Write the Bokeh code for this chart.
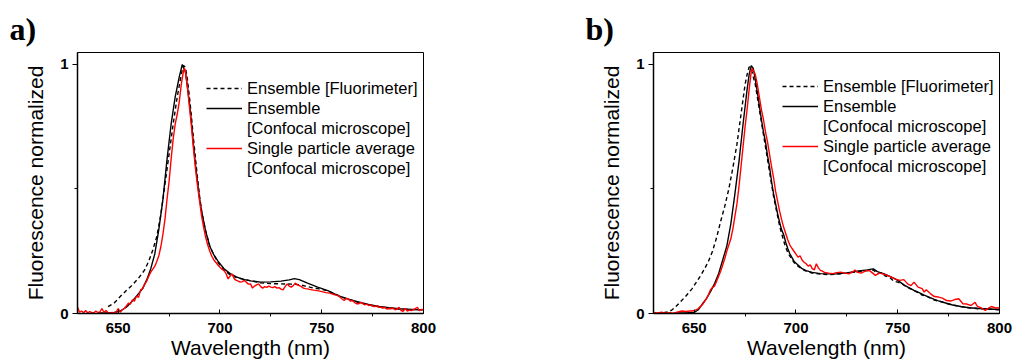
from bokeh.plotting import figure
from bokeh.layouts import row
from bokeh.models import Range1d, FixedTicker, Legend, LegendItem, Title
from bokeh.embed import file_html
from bokeh.resources import INLINE

# ---------------- data: panel a ----------------
a_fluor_x = [645, 648, 651, 654, 657, 660, 663, 665, 667, 669, 671, 673, 675, 677, 679, 681, 682, 683,
             684, 685, 686, 687, 688, 689, 690, 691, 693, 695, 697, 699, 702, 705, 708, 712, 716, 720,
             725, 730, 735, 739, 742, 745, 748, 751, 754, 757, 760, 764, 768, 772, 776, 780, 785, 790, 795, 800]
a_fluor_y = [0.028, 0.042, 0.068, 0.092, 0.115, 0.142, 0.175, 0.21, 0.255, 0.31, 0.40, 0.52, 0.64, 0.76,
             0.87, 0.96, 0.995, 0.99, 0.94, 0.87, 0.79, 0.70, 0.62, 0.54, 0.47, 0.41, 0.33, 0.27, 0.235,
             0.205, 0.175, 0.155, 0.145, 0.137, 0.13, 0.123, 0.12, 0.119, 0.118, 0.116, 0.11, 0.104, 0.1,
             0.095, 0.087, 0.077, 0.066, 0.055, 0.045, 0.036, 0.03, 0.025, 0.02, 0.017, 0.016, 0.015]

a_conf_x = [640, 644, 648, 651, 654, 657, 660, 662, 664, 666, 668, 670, 672, 674, 676, 678, 680, 681.5,
            683, 684, 685, 686, 687, 688, 689, 690, 691, 693, 695, 697, 699, 702, 705, 708, 711, 715, 720,
            725, 730, 734, 736.5, 739, 743, 748, 753, 758, 763, 768, 773, 778, 783, 788, 794, 800]
a_conf_y = [0.002, 0.002, 0.004, 0.01, 0.025, 0.05, 0.08, 0.1, 0.135, 0.18, 0.24, 0.34, 0.46, 0.62, 0.76,
            0.87, 0.95, 1.0, 0.97, 0.91, 0.845, 0.765, 0.675, 0.595, 0.525, 0.46, 0.41, 0.33, 0.27, 0.235,
            0.21, 0.18, 0.16, 0.147, 0.138, 0.131, 0.126, 0.127, 0.13, 0.135, 0.14, 0.136, 0.122, 0.106,
            0.092, 0.072, 0.058, 0.046, 0.036, 0.028, 0.023, 0.019, 0.016, 0.015]

a_single_x = [630, 631, 632, 633, 634, 635, 636, 637, 638, 639, 640, 641, 642, 643, 644, 645, 646, 647, 648,
              649, 650, 651, 652, 653, 654, 655, 656, 657, 658, 659, 660, 661, 662, 663, 664, 665, 666, 667,
              668, 669, 670, 671, 672, 673, 674, 675, 676, 677, 678, 679, 680, 681, 682, 682.5, 683, 684, 685,
              686, 687, 688, 689, 690, 691, 692, 693, 694, 695, 696, 697, 698, 699, 700, 701, 702, 703, 704,
              705, 706, 707, 708, 709, 710, 711, 712, 713, 714, 715, 716, 717, 718, 719, 720, 721, 722, 723,
              724, 725, 726, 727, 728, 729, 730, 731, 732, 733, 734, 735, 736, 737, 738, 739, 740, 741, 742,
              743, 744, 746, 748, 750, 752, 754, 756, 758, 759, 760, 761, 762, 763, 764, 765, 766, 767, 768,
              769, 770, 771, 772, 773, 774, 775, 776, 777, 778, 779, 780, 781, 782, 783, 784, 785, 786, 787,
              788, 789, 790, 791, 792, 793, 794, 795, 796, 797, 798, 799, 800]
a_single_y = [0.025, 0.005, 0.01, 0.003, 0.012, 0.002, 0.008, 0.004, 0.002, 0.01, 0.004, 0.006, 0.02,
              0.004, 0.012, 0.003, 0.002, 0.004, 0.002, 0.006, 0.02, 0.005, 0.015, 0.02, 0.03, 0.042, 0.038,
              0.055, 0.05, 0.07, 0.065, 0.095, 0.1, 0.118, 0.13, 0.15, 0.166, 0.178, 0.19, 0.21, 0.233,
              0.27, 0.32, 0.38, 0.46, 0.53, 0.62, 0.70, 0.76, 0.80, 0.85, 0.92, 0.97, 0.985, 0.975, 0.91,
              0.83, 0.75, 0.66, 0.58, 0.51, 0.45, 0.39, 0.345, 0.305, 0.275, 0.25, 0.23, 0.215, 0.205,
              0.195, 0.186, 0.178, 0.172, 0.16, 0.139, 0.15, 0.159, 0.14, 0.133, 0.13, 0.126, 0.128, 0.133,
              0.125, 0.118, 0.119, 0.102, 0.11, 0.115, 0.119, 0.108, 0.102, 0.108, 0.105, 0.11, 0.106,
              0.104, 0.108, 0.102, 0.104, 0.098, 0.095, 0.108, 0.119, 0.11, 0.106, 0.112, 0.122, 0.115,
              0.112, 0.108, 0.102, 0.1, 0.099, 0.097, 0.094, 0.092, 0.088, 0.084, 0.082, 0.076, 0.072,
              0.065, 0.058, 0.052, 0.06, 0.059, 0.05, 0.052, 0.045, 0.039, 0.039, 0.044, 0.042, 0.035,
              0.038, 0.032, 0.035, 0.03, 0.028, 0.032, 0.025, 0.025, 0.022, 0.025, 0.018, 0.02, 0.019,
              0.022, 0.015, 0.018, 0.025, 0.012, 0.009, 0.02, 0.01, 0.014, 0.012, 0.016, 0.02, 0.025,
              0.012, 0.016, 0.016]

# ---------------- data: panel b ----------------
b_fluor_x = [635, 637, 639, 641, 643, 645, 647, 649, 651, 653, 655, 657, 659, 661, 663, 665, 667, 669,
             671, 673, 675, 676, 677, 678, 679, 680, 681, 682, 683, 684, 685, 686, 687, 688, 689, 690, 691,
             692, 693, 694, 695, 696, 697, 699, 701, 703, 705, 708, 712, 716, 720, 725, 730, 735, 738, 740,
             742, 744, 746, 748, 750, 752, 754, 756, 758, 760, 762, 764, 766, 768, 770, 772, 774, 777, 781,
             785, 790, 795, 800]
b_fluor_y = [0.003, 0.006, 0.014, 0.028, 0.045, 0.062, 0.08, 0.1, 0.125, 0.15, 0.178, 0.21, 0.25, 0.305,
             0.37, 0.43, 0.5, 0.585, 0.68, 0.8, 0.92, 0.96, 0.99, 0.985, 0.95, 0.92, 0.87, 0.82, 0.77, 0.72,
             0.67, 0.62, 0.57, 0.52, 0.47, 0.43, 0.39, 0.35, 0.32, 0.29, 0.265, 0.245, 0.23, 0.205, 0.19,
             0.178, 0.17, 0.162, 0.158, 0.156, 0.158, 0.162, 0.168, 0.172, 0.175, 0.16, 0.163, 0.15, 0.145,
             0.13, 0.126, 0.12, 0.108, 0.1, 0.092, 0.084, 0.074, 0.07, 0.062, 0.054, 0.05, 0.046, 0.04,
             0.034, 0.028, 0.023, 0.019, 0.017, 0.015]

b_conf_x = [640, 645, 650, 652, 654, 656, 658, 660, 662, 664, 666, 668, 670, 672, 674, 675, 676, 677, 678,
            679, 680, 681, 682, 683, 684, 685, 686, 687, 688, 689, 690, 691, 692, 693, 694, 695, 696, 697,
            699, 701, 703, 705, 708, 712, 716, 720, 725, 730, 735, 738, 740, 743, 745, 748, 750, 753, 755,
            758, 760, 763, 765, 768, 770, 774, 777, 781, 785, 790, 795, 800]
b_conf_y = [0.002, 0.002, 0.004, 0.015, 0.038, 0.06, 0.088, 0.12, 0.16, 0.215, 0.27, 0.36, 0.48, 0.61,
            0.76, 0.83, 0.9, 0.96, 0.995, 0.985, 0.94, 0.89, 0.835, 0.78, 0.73, 0.69, 0.635, 0.59, 0.53,
            0.48, 0.44, 0.40, 0.365, 0.335, 0.315, 0.285, 0.26, 0.24, 0.21, 0.195, 0.18, 0.172, 0.165,
            0.16, 0.159, 0.159, 0.163, 0.17, 0.175, 0.179, 0.168, 0.16, 0.153, 0.142, 0.133, 0.115, 0.106,
            0.093, 0.086, 0.074, 0.067, 0.057, 0.051, 0.041, 0.034, 0.028, 0.023, 0.02, 0.018, 0.016]

b_single_x = [630, 632, 634, 636, 638, 640, 642, 644, 646, 648, 650, 652, 654, 656, 657, 658, 659, 660,
              661, 662, 663, 664, 665, 666, 667, 668, 669, 670, 671, 672, 673, 674, 675, 676, 677, 678,
              678.5, 679, 680, 681, 682, 683, 684, 685, 686, 687, 688, 689, 690, 691, 692, 693, 694, 695,
              696, 697, 698, 699, 700, 701, 702, 703, 704, 705, 706, 707, 708, 709, 710, 711, 712, 713,
              714, 716, 718, 720, 722, 724, 726, 728, 729, 730, 732, 734, 736, 738, 739, 741, 743, 745,
              747, 749, 751, 753, 755, 756.5, 758, 760, 762, 763, 764, 766, 768, 770, 772, 774, 776, 778,
              780, 782, 784, 786, 788, 789, 791, 793, 795, 796, 798, 800]
b_single_y = [0.004, 0.002, 0.005, 0.001, 0.003, 0.001, 0.006, 0.01, 0.008, 0.01, 0.011, 0.02, 0.035,
              0.06, 0.075, 0.095, 0.105, 0.11, 0.13, 0.15, 0.17, 0.195, 0.22, 0.25, 0.275, 0.3, 0.34, 0.39,
              0.44, 0.51, 0.59, 0.67, 0.75, 0.82, 0.9, 0.97, 0.985, 0.975, 0.96, 0.92, 0.87, 0.82, 0.78,
              0.73, 0.69, 0.64, 0.59, 0.545, 0.49, 0.45, 0.41, 0.375, 0.345, 0.32, 0.295, 0.275, 0.262,
              0.25, 0.238, 0.226, 0.232, 0.215, 0.206, 0.2, 0.19, 0.195, 0.18, 0.175, 0.2, 0.183, 0.173,
              0.17, 0.165, 0.162, 0.16, 0.164, 0.166, 0.162, 0.159, 0.168, 0.175, 0.166, 0.162, 0.17,
              0.173, 0.16, 0.153, 0.162, 0.158, 0.153, 0.145, 0.138, 0.133, 0.136, 0.118, 0.112, 0.126,
              0.106, 0.1, 0.086, 0.095, 0.08, 0.068, 0.066, 0.062, 0.052, 0.05, 0.056, 0.059, 0.039, 0.038,
              0.032, 0.045, 0.03, 0.023, 0.012, 0.024, 0.028, 0.022, 0.023]

x_ticks = [650, 700, 750, 800]
x_minor = [675, 725, 775]
y_ticks = [0, 1]
y_minor = [0.5]

legend_labels = ["Ensemble [Fluorimeter]", "Ensemble", "[Confocal microscope]",
                 "Single particle average", "[Confocal microscope]"]

FONT = "Liberation Sans"


def make_panel(letter, fluor, conf, single, width, border_right, legend_loc):
    p = figure(width=width, height=363, output_backend="svg", toolbar_location=None,
               x_range=Range1d(630, 800), y_range=Range1d(0, 1.048),
               min_border_left=77, min_border_right=border_right,
               min_border_top=52, min_border_bottom=50)
    p.title = Title(text=letter, align="left", offset=-68, text_font="Liberation Serif",
                    text_font_size="32px", text_font_style="bold", text_color="black", standoff=12)
    p.grid.visible = False
    p.outline_line_color = "black"
    p.outline_line_width = 1
    p.background_fill_color = "white"
    p.border_fill_color = "white"

    xa = p.below[0]
    xa.ticker = FixedTicker(ticks=x_ticks, minor_ticks=x_minor)
    xa.axis_label = "Wavelength (nm)"
    ya = p.left[0]
    ya.ticker = FixedTicker(ticks=y_ticks, minor_ticks=y_minor)
    ya.axis_label = "Fluorescence normalized"
    for ax in (xa, ya):
        ax.axis_line_color = "black"
        ax.axis_line_width = 1.5
        ax.major_tick_line_color = "black"
        ax.minor_tick_line_color = "black"
        ax.major_label_text_font = FONT
        ax.major_label_text_font_style = "bold"
        ax.major_label_text_font_size = "15px"
        ax.major_label_text_color = "black"
        ax.axis_label_text_font = FONT
        ax.axis_label_text_font_style = "normal"
        ax.axis_label_text_font_size = "21px"
        ax.axis_label_text_color = "black"
    xa.major_tick_in = 4
    xa.major_tick_out = 0
    xa.minor_tick_in = 0
    xa.minor_tick_out = 3
    xa.major_label_standoff = 6
    xa.axis_label_standoff = 0
    ya.major_tick_in = 0
    ya.major_tick_out = 5
    ya.minor_tick_in = 0
    ya.minor_tick_out = 3
    ya.major_label_standoff = 4
    ya.axis_label_standoff = 10

    r_f = p.line(fluor[0], fluor[1], line_color="black", line_width=1.4, line_dash="4 3")
    r_c = p.line(conf[0], conf[1], line_color="black", line_width=1.4)
    r_s = p.line(single[0], single[1], line_color="#ff0000", line_width=1.4)
    r_blank = p.line([], [], line_alpha=0)

    items = [LegendItem(label=legend_labels[0], renderers=[r_f]),
             LegendItem(label=legend_labels[1], renderers=[r_c]),
             LegendItem(label=legend_labels[2], renderers=[r_blank]),
             LegendItem(label=legend_labels[3], renderers=[r_s]),
             LegendItem(label=legend_labels[4], renderers=[r_blank])]
    leg = Legend(items=items, location=legend_loc, padding=0, spacing=0, margin=0,
                 label_height=20, glyph_height=20, glyph_width=36, label_standoff=5,
                 label_text_font=FONT, label_text_font_size="16.5px", label_text_color="black",
                 border_line_color=None, background_fill_alpha=0)
    p.add_layout(leg)
    return p


pa = make_panel("a)", (a_fluor_x, a_fluor_y), (a_conf_x, a_conf_y), (a_single_x, a_single_y),
                576, 153, (129, 135))
pb = make_panel("b)", (b_fluor_x, b_fluor_y), (b_conf_x, b_conf_y), (b_single_x, b_single_y),
                437, 14, (129, 137))

layout = row(pa, pb)
open("out.html", "w").write(file_html(layout, INLINE))
